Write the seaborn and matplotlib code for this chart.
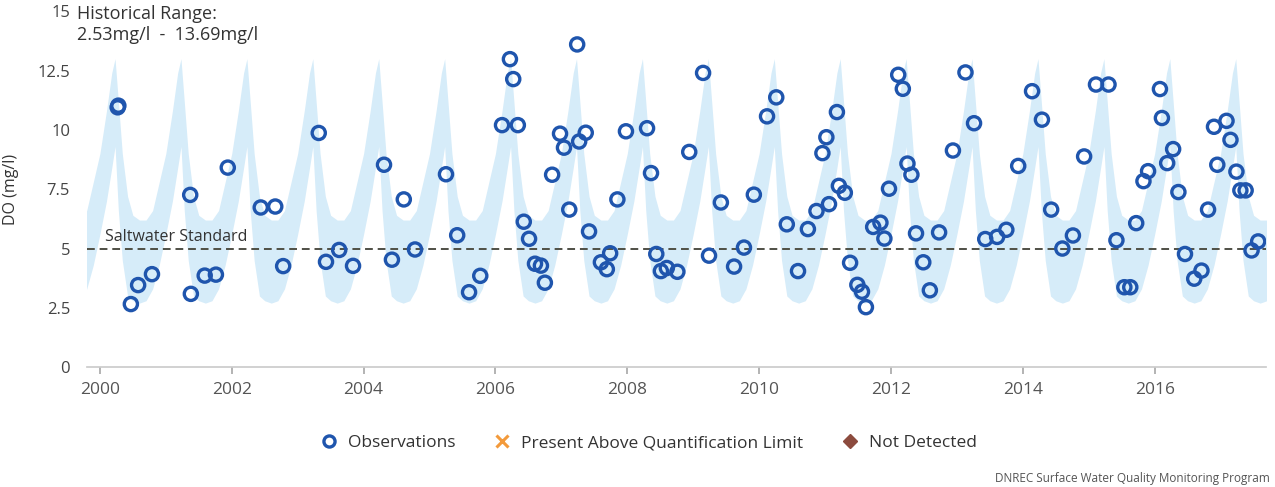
import numpy as np
import pandas as pd
import matplotlib
matplotlib.use("Agg")
import matplotlib.pyplot as plt
from matplotlib.lines import Line2D
import seaborn as sns

# observations (decimal year, DO mg/l)
obs_year = [2000.27, 2000.28, 2000.47, 2000.58, 2000.79, 2001.37, 2001.38, 2001.59, 2001.76, 2001.94,
            2002.44, 2002.66, 2002.78, 2003.32, 2003.43, 2003.63, 2003.84, 2004.31, 2004.43, 2004.61,
            2004.78, 2005.25, 2005.42, 2005.60, 2005.77, 2006.10, 2006.22, 2006.27, 2006.34, 2006.43,
            2006.51, 2006.60, 2006.69, 2006.75, 2006.86, 2006.98, 2007.04, 2007.12, 2007.24, 2007.27,
            2007.37, 2007.42, 2007.60, 2007.69, 2007.74, 2007.85, 2007.98, 2008.30, 2008.36, 2008.44,
            2008.51, 2008.60, 2008.76, 2008.94, 2009.15, 2009.24, 2009.42, 2009.62, 2009.77, 2009.92,
            2010.12, 2010.26, 2010.42, 2010.59, 2010.74, 2010.87, 2010.96, 2011.02, 2011.06, 2011.18,
            2011.21, 2011.30, 2011.38, 2011.49, 2011.56, 2011.62, 2011.73, 2011.84, 2011.90, 2011.97,
            2012.11, 2012.18, 2012.25, 2012.31, 2012.38, 2012.49, 2012.59, 2012.73, 2012.94, 2013.13,
            2013.26, 2013.43, 2013.61, 2013.75, 2013.93, 2014.14, 2014.29, 2014.43, 2014.60, 2014.76,
            2014.93, 2015.11, 2015.30, 2015.42, 2015.54, 2015.63, 2015.72, 2015.83, 2015.90, 2016.08,
            2016.11, 2016.19, 2016.28, 2016.36, 2016.46, 2016.60, 2016.71, 2016.81, 2016.90, 2016.95,
            2017.09, 2017.15, 2017.24, 2017.30, 2017.38, 2017.47, 2017.57]
obs_do = [10.95, 11.02, 2.66, 3.46, 3.92, 7.26, 3.09, 3.86, 3.90, 8.41,
          6.73, 6.77, 4.26, 9.87, 4.44, 4.94, 4.27, 8.53, 4.53, 7.07,
          4.96, 8.13, 5.56, 3.16, 3.85, 10.20, 12.98, 12.14, 10.20, 6.13,
          5.41, 4.36, 4.28, 3.56, 8.11, 9.84, 9.25, 6.64, 13.60, 9.51,
          9.88, 5.72, 4.42, 4.13, 4.80, 7.07, 9.94, 10.07, 8.18, 4.77,
          4.05, 4.18, 4.02, 9.07, 12.40, 4.70, 6.94, 4.24, 5.04, 7.27,
          10.57, 11.37, 6.02, 4.05, 5.82, 6.58, 9.02, 9.69, 6.87, 10.75,
          7.64, 7.35, 4.40, 3.47, 3.18, 2.53, 5.91, 6.09, 5.42, 7.52,
          12.32, 11.73, 8.58, 8.11, 5.64, 4.42, 3.24, 5.68, 9.13, 12.42,
          10.28, 5.40, 5.49, 5.79, 8.48, 11.63, 10.43, 6.64, 5.00, 5.55,
          8.88, 11.91, 11.91, 5.35, 3.37, 3.37, 6.07, 7.84, 8.26, 11.72,
          10.50, 8.60, 9.19, 7.38, 4.77, 3.73, 4.07, 6.64, 10.13, 8.53,
          10.38, 9.58, 8.24, 7.45, 7.45, 4.92, 5.30]

# seasonal historical range (fraction of year -> upper / lower mg/l)
season_frac = [0.00, 0.10, 0.18, 0.23, 0.28, 0.34, 0.42, 0.50, 0.60, 0.70, 0.80, 0.90, 1.00]
season_hi = [9.0, 10.8, 12.4, 13.0, 11.2, 9.0, 7.2, 6.4, 6.2, 6.2, 6.6, 7.8, 9.0]
season_lo = [5.6, 7.0, 8.4, 9.3, 6.6, 4.5, 3.0, 2.8, 2.7, 2.8, 3.3, 4.3, 5.6]
band_years = list(range(1999, 2018))

standard = 5.0
x_ticks = [2000, 2002, 2004, 2006, 2008, 2010, 2012, 2014, 2016]
y_ticks = [0, 2.5, 5, 7.5, 10, 12.5, 15]
y_ticklabels = ["0", "2.5", "5", "7.5", "10", "12.5", "15"]

sns.set_theme(style="white")
plt.rcParams['font.family'] = ['Open Sans', 'DejaVu Sans']

df = pd.DataFrame({'year': obs_year, 'do': obs_do})

band_t = np.concatenate([y + np.array(season_frac) for y in band_years])
band_hi = np.tile(season_hi, len(band_years))
band_lo = np.tile(season_lo, len(band_years))

fig = plt.figure(figsize=(12.75, 4.87), dpi=100)
ax = fig.add_axes([0.068, 0.246, 0.925, 0.731])

ax.fill_between(band_t, band_lo, band_hi, color='#d6ecf9', lw=0, zorder=1)
ax.axhline(standard, color='#4f4f45', lw=1.4, ls=(0, (4, 2.5)), zorder=2)
ax.text(2000.08, standard + 0.15, "Saltwater Standard", fontsize=11.5, color='#333333',
        va='bottom', ha='left', zorder=2)

sns.scatterplot(data=df, x='year', y='do', ax=ax, s=90, marker='o',
                facecolors='none', edgecolor='#1f55ad', linewidth=2.4, zorder=3, legend=False)

ax.set_xlim(1999.8, 2017.69)
ax.set_ylim(0, 15)
ax.set_xticks(x_ticks)
ax.set_xticklabels([str(t) for t in x_ticks])
ax.set_yticks(y_ticks)
ax.set_yticklabels(y_ticklabels)
ax.tick_params(axis='x', length=5, color='#aaaaaa', colors='#555555', labelsize=12.5, pad=6,
               direction='out', bottom=True)
ax.tick_params(axis='y', length=0, colors='#444444', labelsize=12, pad=12)
for s in ['top', 'right', 'left']:
    ax.spines[s].set_visible(False)
ax.spines['bottom'].set_color('#cccccc')
ax.set_xlabel('')
ax.set_ylabel('DO (mg/l)', fontsize=11.5, color='#333333')
ax.yaxis.set_label_coords(-0.057, 0.5)

fig.text(0.0605, 0.99, "Historical Range:\n2.53mg/l  -  13.69mg/l", fontsize=13,
         color='#333333', va='top', ha='left', linespacing=1.25)

handles = [
    Line2D([], [], ls='none', marker='o', ms=8, mfc='none', mec='#1f55ad', mew=2.4),
    Line2D([], [], ls='none', marker='x', ms=8, mec='#f39a3b', mew=2.2),
    Line2D([], [], ls='none', marker='D', ms=7, mfc='#8c4b3e', mec='#8c4b3e'),
]
labels = ["Observations", "Present Above Quantification Limit", "Not Detected"]
fig.legend(handles, labels, loc='center', bbox_to_anchor=(0.508, 0.09), ncol=3,
           frameon=False, fontsize=12.5, handletextpad=0.5, columnspacing=2.1,
           handlelength=1.2, labelcolor='#333333')

fig.text(0.996, 0.018, "DNREC Surface Water Quality Monitoring Program", fontsize=8.5,
         color='#555555', ha='right', va='center')

fig.savefig('out.png', dpi=100)
